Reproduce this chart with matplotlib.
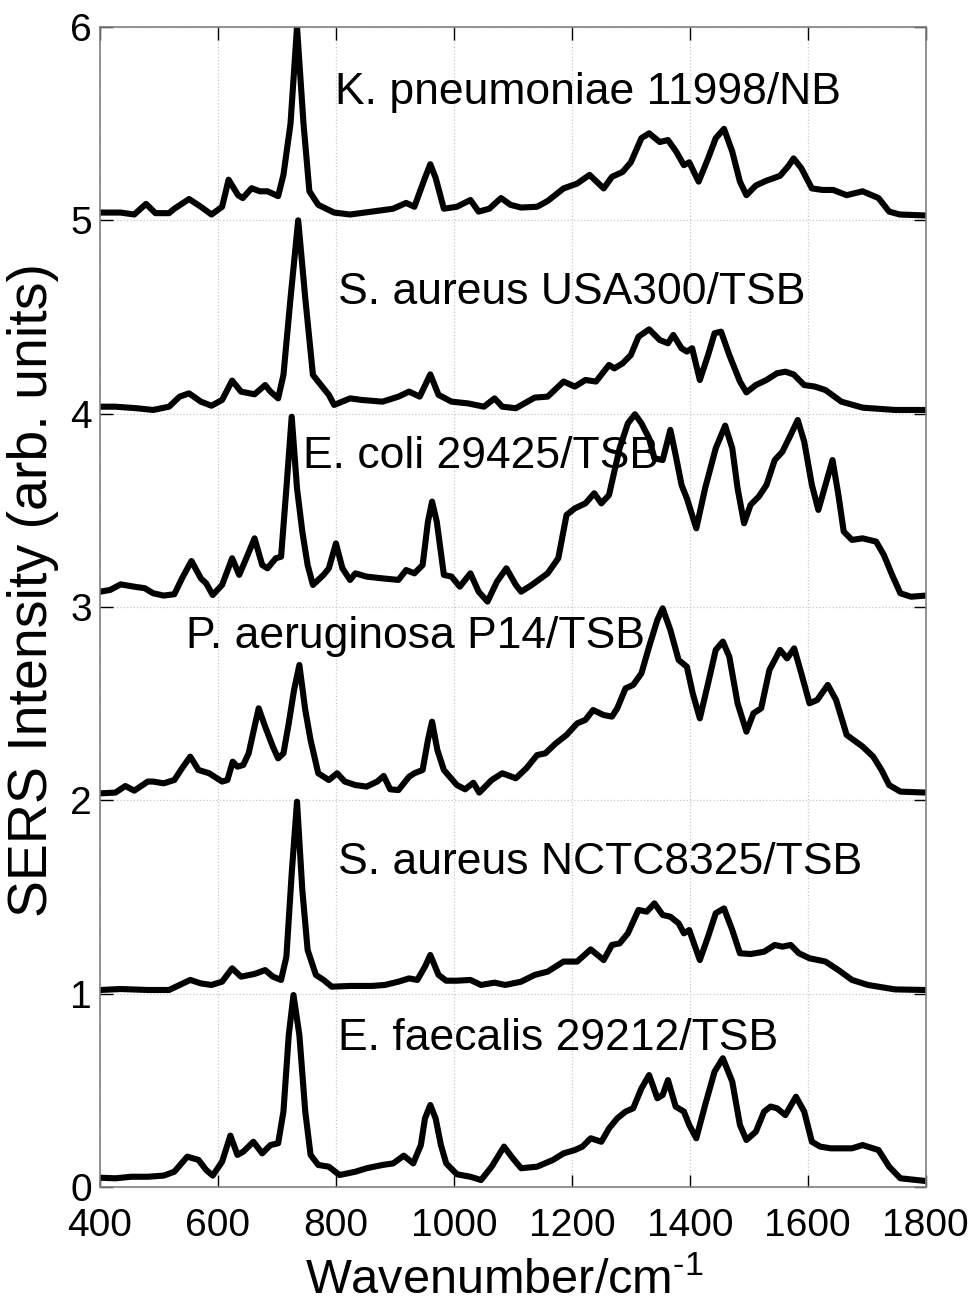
import matplotlib
matplotlib.use("Agg")
from matplotlib import pyplot as plt

plt.rcParams['font.family'] = ['Liberation Sans', 'DejaVu Sans']
plt.rcParams['mathtext.default'] = 'regular'

# spectra: wavenumber (cm-1) and intensity above its own baseline
wn_ef = [400, 426, 453, 481, 508, 526, 548, 567, 580, 591, 607, 621, 633, 643, 660, 675, 689, 702, 711, 720,
         728, 738, 748, 757, 770, 788, 806, 833, 852, 879, 897, 915, 931, 944, 951, 960, 969, 978, 987, 1005,
         1028, 1046, 1064, 1085, 1100, 1114, 1141, 1168, 1186, 1205, 1218, 1232, 1250, 1263, 1277, 1291, 1304,
         1318, 1331, 1345, 1354, 1363, 1376, 1390, 1399, 1411, 1426, 1442, 1456, 1472, 1485, 1496, 1512, 1526,
         1537, 1548, 1562, 1580, 1594, 1607, 1621, 1639, 1657, 1675, 1693, 1720, 1738, 1757, 1800]
int_ef = [0.048, 0.045, 0.053, 0.053, 0.059, 0.079, 0.157, 0.14, 0.088, 0.059, 0.131, 0.266, 0.166, 0.183,
          0.234, 0.174, 0.217, 0.226, 0.39, 0.786, 0.993, 0.786, 0.39, 0.166, 0.114, 0.105, 0.062, 0.079, 0.097,
          0.114, 0.122, 0.162, 0.122, 0.217, 0.355, 0.424, 0.355, 0.217, 0.122, 0.066, 0.053, 0.036, 0.105,
          0.209, 0.148, 0.097, 0.105, 0.14, 0.174, 0.191, 0.209, 0.252, 0.234, 0.303, 0.355, 0.39, 0.407, 0.51,
          0.579, 0.459, 0.476, 0.553, 0.416, 0.39, 0.321, 0.252, 0.424, 0.597, 0.666, 0.545, 0.321, 0.243,
          0.286, 0.39, 0.416, 0.407, 0.372, 0.467, 0.39, 0.234, 0.209, 0.2, 0.2, 0.2, 0.217, 0.191, 0.105,
          0.045, 0.031]

wn_nctc = [400, 435, 481, 517, 535, 553, 571, 589, 607, 624, 639, 662, 680, 693, 707, 716, 725, 734, 743, 752,
           766, 779, 793, 824, 861, 883, 906, 924, 938, 951, 960, 974, 987, 1005, 1028, 1046, 1069, 1087, 1114,
           1137, 1159, 1186, 1209, 1232, 1254, 1268, 1281, 1295, 1313, 1327, 1340, 1354, 1367, 1381, 1390, 1399,
           1417, 1431, 1444, 1458, 1472, 1485, 1503, 1526, 1544, 1557, 1571, 1585, 1603, 1630, 1652, 1675, 1702,
           1748, 1800]
int_nctc = [0.019, 0.024, 0.019, 0.019, 0.045, 0.071, 0.053, 0.045, 0.062, 0.131, 0.088, 0.102, 0.122, 0.088,
            0.071, 0.191, 0.622, 0.993, 0.536, 0.226, 0.097, 0.071, 0.036, 0.04, 0.04, 0.045, 0.062, 0.079, 0.071,
            0.14, 0.2, 0.097, 0.067, 0.067, 0.071, 0.045, 0.057, 0.045, 0.062, 0.097, 0.114, 0.166, 0.166, 0.229,
            0.174, 0.252, 0.26, 0.312, 0.433, 0.424, 0.467, 0.407, 0.398, 0.364, 0.312, 0.329, 0.174, 0.295,
            0.416, 0.441, 0.329, 0.209, 0.205, 0.217, 0.252, 0.243, 0.252, 0.209, 0.183, 0.166, 0.122, 0.071,
            0.045, 0.022, 0.019]

wn_pa = [400, 426, 443, 458, 481, 490, 508, 526, 539, 553, 567, 585, 607, 616, 625, 633, 643, 652, 662, 669,
         680, 693, 702, 711, 720, 729, 738, 748, 757, 770, 788, 802, 815, 833, 852, 870, 881, 892, 906, 924, 933,
         947, 956, 963, 972, 983, 1005, 1019, 1033, 1043, 1064, 1082, 1105, 1123, 1141, 1155, 1173, 1191, 1209,
         1223, 1236, 1254, 1268, 1277, 1291, 1304, 1318, 1331, 1345, 1354, 1367, 1381, 1395, 1405, 1417, 1431,
         1444, 1456, 1467, 1481, 1496, 1508, 1521, 1535, 1553, 1565, 1577, 1589, 1603, 1616, 1634, 1648, 1666,
         1693, 1711, 1725, 1738, 1757, 1800]
int_pa = [0.036, 0.04, 0.074, 0.05, 0.097, 0.097, 0.088, 0.105, 0.166, 0.226, 0.157, 0.14, 0.097, 0.105, 0.2,
          0.174, 0.183, 0.243, 0.381, 0.476, 0.381, 0.278, 0.217, 0.243, 0.398, 0.571, 0.7, 0.467, 0.312, 0.14,
          0.105, 0.14, 0.097, 0.079, 0.071, 0.097, 0.126, 0.057, 0.053, 0.122, 0.14, 0.157, 0.312, 0.407, 0.26,
          0.157, 0.079, 0.057, 0.091, 0.04, 0.105, 0.14, 0.114, 0.166, 0.234, 0.243, 0.295, 0.338, 0.398, 0.416,
          0.467, 0.441, 0.433, 0.476, 0.579, 0.597, 0.657, 0.795, 0.933, 0.993, 0.881, 0.726, 0.691, 0.553,
          0.424, 0.605, 0.778, 0.821, 0.743, 0.502, 0.355, 0.45, 0.476, 0.674, 0.778, 0.734, 0.786, 0.657,
          0.502, 0.519, 0.597, 0.519, 0.338, 0.278, 0.226, 0.157, 0.079, 0.045, 0.04]

wn_ec = [400, 417, 435, 458, 476, 490, 508, 526, 539, 555, 571, 580, 591, 607, 624, 636, 648, 662, 675, 684,
         698, 707, 716, 725, 734, 743, 752, 761, 779, 788, 800, 811, 824, 833, 852, 879, 906, 919, 933, 947, 956,
         963, 971, 983, 996, 1010, 1028, 1042, 1057, 1073, 1089, 1105, 1114, 1132, 1159, 1177, 1191, 1205, 1223,
         1238, 1250, 1263, 1272, 1281, 1295, 1307, 1318, 1331, 1340, 1354, 1367, 1376, 1386, 1395, 1411, 1426,
         1444, 1460, 1472, 1481, 1492, 1503, 1517, 1530, 1544, 1557, 1571, 1583, 1594, 1607, 1618, 1630, 1642,
         1652, 1661, 1675, 1693, 1716, 1729, 1743, 1757, 1775, 1800]
int_ec = [0.079, 0.088, 0.117, 0.105, 0.097, 0.071, 0.059, 0.066, 0.148, 0.238, 0.148, 0.122, 0.062, 0.114,
          0.252, 0.166, 0.252, 0.355, 0.217, 0.2, 0.252, 0.26, 0.614, 0.984, 0.614, 0.39, 0.217, 0.114, 0.166,
          0.2, 0.329, 0.2, 0.14, 0.174, 0.157, 0.148, 0.14, 0.191, 0.174, 0.217, 0.441, 0.545, 0.441, 0.166,
          0.157, 0.105, 0.174, 0.079, 0.028, 0.131, 0.2, 0.114, 0.079, 0.114, 0.174, 0.252, 0.476, 0.51, 0.536,
          0.588, 0.536, 0.579, 0.7, 0.821, 0.95, 0.997, 0.95, 0.872, 0.769, 0.76, 0.916, 0.786, 0.631, 0.562,
          0.407, 0.614, 0.821, 0.938, 0.821, 0.614, 0.433, 0.528, 0.571, 0.631, 0.76, 0.803, 0.89, 0.967, 0.855,
          0.631, 0.502, 0.631, 0.76, 0.579, 0.39, 0.347, 0.355, 0.338, 0.269, 0.166, 0.071, 0.053, 0.059]

wn_usa = [400, 426, 462, 490, 517, 535, 551, 571, 589, 607, 624, 639, 662, 680, 689, 702, 711, 723, 736, 748,
          761, 779, 788, 797, 824, 843, 879, 906, 924, 942, 960, 974, 996, 1024, 1051, 1069, 1082, 1105, 1137,
          1159, 1186, 1205, 1223, 1241, 1263, 1272, 1286, 1300, 1313, 1331, 1349, 1363, 1372, 1386, 1395, 1404,
          1417, 1431, 1442, 1453, 1467, 1485, 1496, 1512, 1530, 1548, 1562, 1576, 1594, 1612, 1630, 1657, 1693,
          1748, 1800]
int_usa = [0.036, 0.036, 0.028, 0.019, 0.036, 0.088, 0.105, 0.062, 0.041, 0.071, 0.171, 0.114, 0.10, 0.148,
           0.114, 0.079, 0.20, 0.597, 1.0, 0.597, 0.20, 0.131, 0.097, 0.045, 0.079, 0.071, 0.062, 0.088, 0.114,
           0.088, 0.203, 0.097, 0.062, 0.053, 0.036, 0.079, 0.036, 0.028, 0.083, 0.088, 0.166, 0.14, 0.174,
           0.166, 0.252, 0.234, 0.26, 0.303, 0.398, 0.436, 0.381, 0.364, 0.407, 0.338, 0.321, 0.338, 0.174,
           0.303, 0.416, 0.424, 0.303, 0.166, 0.11, 0.148, 0.174, 0.209, 0.217, 0.203, 0.148, 0.14, 0.122,
           0.062, 0.031, 0.019, 0.019]

wn_kp = [400, 435, 458, 478, 494, 517, 526, 551, 571, 589, 607, 618, 634, 642, 657, 671, 684, 702, 711, 723,
         734, 745, 755, 770, 797, 824, 861, 897, 919, 933, 951, 960, 969, 983, 1005, 1028, 1042, 1060, 1080,
         1096, 1114, 1141, 1159, 1186, 1209, 1230, 1254, 1268, 1286, 1300, 1318, 1331, 1349, 1363, 1377, 1390,
         1399, 1415, 1431, 1444, 1458, 1472, 1485, 1496, 1512, 1530, 1553, 1567, 1576, 1589, 1607, 1625, 1643,
         1666, 1693, 1720, 1738, 1756, 1800]
int_kp = [0.04, 0.04, 0.03, 0.085, 0.037, 0.037, 0.06, 0.11, 0.07, 0.03, 0.07, 0.21, 0.13, 0.115, 0.166, 0.15,
          0.15, 0.125, 0.235, 0.50, 1.0, 0.50, 0.15, 0.08, 0.04, 0.03, 0.045, 0.06, 0.09, 0.07, 0.22, 0.29, 0.22,
          0.06, 0.07, 0.105, 0.045, 0.06, 0.115, 0.08, 0.066, 0.07, 0.10, 0.165, 0.19, 0.235, 0.165, 0.225, 0.25,
          0.30, 0.425, 0.45, 0.405, 0.415, 0.355, 0.285, 0.30, 0.20, 0.32, 0.425, 0.473, 0.355, 0.20, 0.13, 0.18,
          0.205, 0.23, 0.28, 0.32, 0.27, 0.165, 0.157, 0.157, 0.13, 0.15, 0.115, 0.045, 0.03, 0.025]

wavenumbers = [wn_ef, wn_nctc, wn_pa, wn_ec, wn_usa, wn_kp]
intensities = [int_ef, int_nctc, int_pa, int_ec, int_usa, int_kp]
offsets = [0, 1, 2, 3, 4, 5]
labels = ['E. faecalis 29212/TSB', 'S. aureus NCTC8325/TSB', 'P. aeruginosa P14/TSB',
          'E. coli 29425/TSB', 'S. aureus USA300/TSB', 'K. pneumoniae 11998/NB']
label_pos = [(803, 0.77), (803, 1.68), (546, 2.845), (744, 3.777), (803, 4.625), (798, 5.66)]

fig = plt.figure(figsize=(9.73, 13.09), dpi=100)
ax = fig.add_axes([0.1028, 0.0932, 0.8486, 0.8862])

for wn, it, off in zip(wavenumbers, intensities, offsets):
    ax.plot(wn, [v + off for v in it], color='black', lw=4.4, solid_joinstyle='round')

for lab, (lx, ly) in zip(labels, label_pos):
    ax.text(lx, ly, lab, fontsize=32, va='center', ha='left')

ax.set_xlim(400, 1800)
ax.set_ylim(0, 6)
ax.set_xticks(range(400, 1801, 200))
ax.set_yticks(range(0, 7))
ax.grid(True, linestyle=':', color='#c8c8c8', linewidth=0.9)
ax.tick_params(direction='in', top=True, right=True, length=9, width=1, labelsize=28)
ax.tick_params(axis='x', pad=15)
ax.tick_params(axis='y', pad=6)
for s in ax.spines.values():
    s.set_color('#808080')
    s.set_linewidth(1.2)

ax.set_xlabel('Wavenumber/cm$^{\u20101}$', fontsize=35)
ax.xaxis.set_label_coords(0.49, -0.062)
ax.set_ylabel('SERS Intensity (arb. units)', fontsize=40)
ax.yaxis.set_label_coords(-0.05, 0.515)

fig.savefig('out.png', dpi=100)
